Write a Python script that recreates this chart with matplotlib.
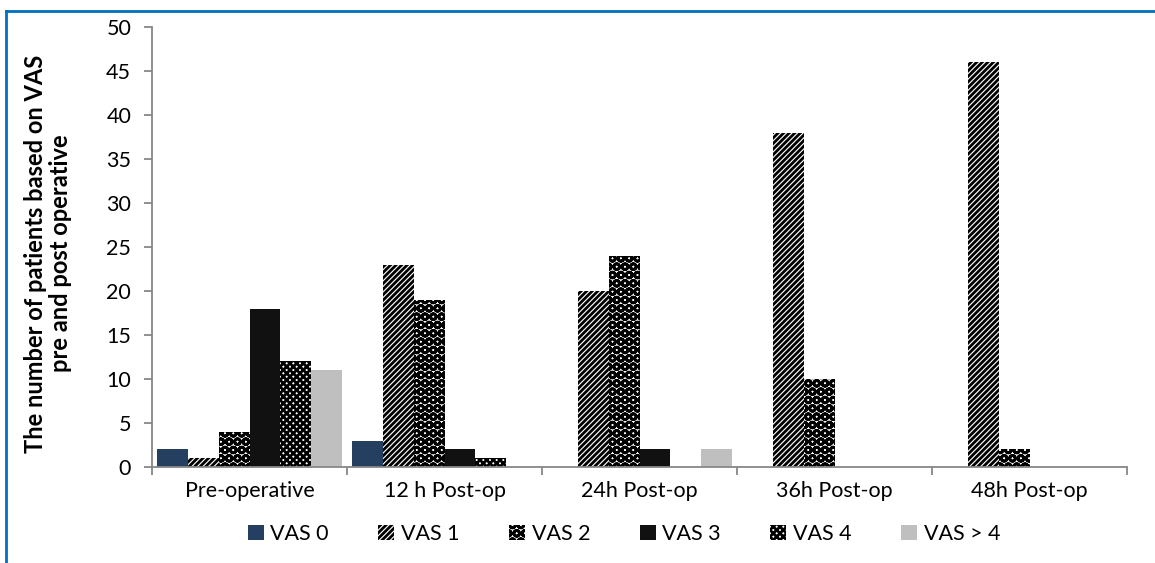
import numpy as np
import matplotlib.pyplot as plt
from matplotlib.lines import Line2D

plt.rcParams["font.family"] = ["Lato", "DejaVu Sans"]
plt.rcParams["hatch.linewidth"] = 2.0

categories = ["Pre-operative", "12 h Post-op", "24h Post-op", "36h Post-op", "48h Post-op"]
series = ["VAS 0", "VAS 1", "VAS 2", "VAS 3", "VAS 4", "VAS > 4"]
vas0 = [2, 3, 0, 0, 0]
vas1 = [1, 23, 20, 38, 46]
vas2 = [4, 19, 24, 10, 2]
vas3 = [18, 2, 2, 0, 0]
vas4 = [12, 1, 0, 0, 0]
vas_gt4 = [11, 0, 2, 0, 0]

values = [vas0, vas1, vas2, vas3, vas4, vas_gt4]
styles = [
    dict(color="#243F60", hatch=None),
    dict(color="white", hatch="//////", edgecolor="black"),
    dict(color="white", hatch="OO", edgecolor="black"),
    dict(color="#111111", hatch=None),
    dict(color="white", hatch="xxxxx", edgecolor="black"),
    dict(color="#BFBFBF", hatch=None),
]

fig = plt.figure(figsize=(11.55, 5.63), dpi=100)
ax = fig.add_axes([0.1316, 0.1705, 0.8442, 0.7815])

x = np.arange(len(categories))
w = 0.158
for i, (vals, st) in enumerate(zip(values, styles)):
    pos = x - 2.5 * w + i * w
    if st["hatch"]:
        ax.bar(pos, vals, w, facecolor="white", edgecolor=st["edgecolor"],
               hatch=st["hatch"], linewidth=0, label=series[i])
    else:
        ax.bar(pos, vals, w, color=st["color"], linewidth=0, label=series[i])

ax.set_xlim(-0.5, len(categories) - 0.5)
ax.set_ylim(0, 50)
ax.set_yticks(range(0, 51, 5))
ax.tick_params(axis="y", labelsize=15.5, length=6, color="#878787", width=1.3, pad=9)
ax.set_xticks(x)
ax.set_xticklabels(categories, fontsize=15.5)
ax.tick_params(axis="x", length=0, pad=10)
ax.set_xticks(np.arange(-0.5, len(categories), 1), minor=True)
ax.tick_params(axis="x", which="minor", length=6, color="#878787", width=1.3)

for s in ["top", "right"]:
    ax.spines[s].set_visible(False)
for s in ["left", "bottom"]:
    ax.spines[s].set_color("#878787")
    ax.spines[s].set_linewidth(1.3)

ax.set_ylabel("The number of patients based on VAS\npre and post operative",
              fontsize=17, fontweight="bold", linespacing=1.1)
ax.yaxis.set_label_coords(-0.082, 0.485)

ax.legend(loc="upper center", bbox_to_anchor=(0.484, -0.11), ncol=6, frameon=False,
          fontsize=15.5, handlelength=0.75, handleheight=0.75, handletextpad=0.3,
          columnspacing=2.3, borderaxespad=0)

# frame lines along the top and left edges
fig.add_artist(Line2D([6 / 1155, 1], [1 - 11 / 563, 1 - 11 / 563], color="#0070C0", lw=2,
                      transform=fig.transFigure))
fig.add_artist(Line2D([6 / 1155, 6 / 1155], [0, 1 - 11 / 563], color="#0070C0", lw=2,
                      transform=fig.transFigure))

fig.savefig("out.png", dpi=100)
